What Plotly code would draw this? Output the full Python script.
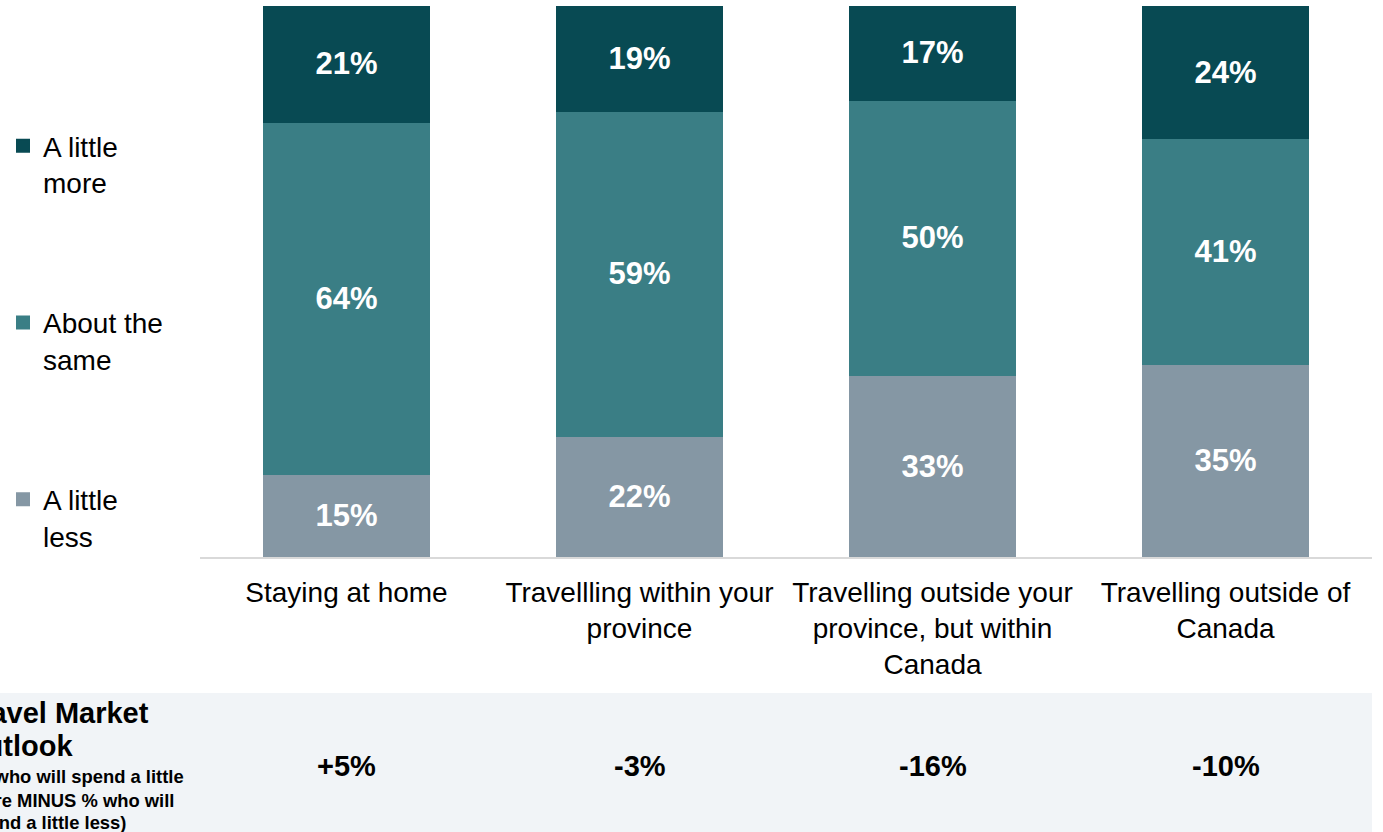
import plotly.graph_objects as go

# Survey categories and stacked shares (%)
categories = [
    "Staying at home",
    "Travellling within your<br>province",
    "Travelling outside your<br>province, but within<br>Canada",
    "Travelling outside of<br>Canada",
]
a_little_less = [15, 22, 33, 35]
about_same = [64, 59, 50, 41]
a_little_more = [21, 19, 17, 24]
outlook = ["+5%", "-3%", "-16%", "-10%"]

series = [
    ("A little<br>less", a_little_less, "#8597a4", 3),
    ("About the<br>same", about_same, "#3a7e85", 2),
    ("A little<br>more", a_little_more, "#084a53", 1),
]

FONT = "Liberation Sans, Arial"
W, H = 1383, 832
L, R, T, B = 200, 11, 6, 275
PW, PH = W - L - R, H - T - B


def px_x(px):
    return (px - L) / PW


def px_y(py):
    return (H - B - py) / PH


fig = go.Figure()
for i, (name, vals, color, rank) in enumerate(series):
    fig.add_trace(go.Bar(
        x=categories,
        y=vals,
        name=name,
        legendgroup=f"g{i}",
        legendrank=rank,
        marker=dict(color=color, line=dict(width=2, color=color)),
        text=[f"{v}%" for v in vals],
        textposition="inside",
        insidetextanchor="middle",
        textangle=0,
        textfont=dict(family=FONT, size=31, color="white", weight="bold"),
        hoverinfo="skip",
    ))

# Shaded band for the outlook row
fig.add_shape(
    type="rect", xref="paper", yref="paper",
    x0=px_x(-5), x1=px_x(1372), y0=px_y(693), y1=px_y(840),
    fillcolor="#f1f4f7", line=dict(width=0), layer="below",
)

annotations = []
for cat, val in zip(categories, outlook):
    annotations.append(dict(
        x=cat, xref="x", y=px_y(766), yref="paper",
        text=f"<b>{val}</b>", showarrow=False,
        font=dict(family=FONT, size=29, color="#000000"),
        xanchor="center", yanchor="middle",
    ))

# Row heading, one line per annotation for tight line spacing
title_lines = [("Travel Market", 713), ("Outlook", 746)]
for txt, yc in title_lines:
    annotations.append(dict(
        x=px_x(-39), xref="paper", y=px_y(yc), yref="paper",
        text=f"<b>{txt}</b>", showarrow=False,
        font=dict(family=FONT, size=29, color="#000000"),
        xanchor="left", yanchor="middle",
    ))
note_lines = [
    ("(% who will spend a little", 777),
    ("more MINUS % who will", 800),
    ("spend a little less)", 822),
]
for txt, yc in note_lines:
    annotations.append(dict(
        x=px_x(-35), xref="paper", y=px_y(yc), yref="paper",
        text=f"<b>{txt}</b>", showarrow=False,
        font=dict(family=FONT, size=18.4, color="#000000"),
        xanchor="left", yanchor="middle",
    ))

fig.update_layout(
    width=W, height=H,
    margin=dict(l=L, r=R, t=T, b=B, autoexpand=False),
    barmode="stack",
    bargap=0.44,
    plot_bgcolor="white",
    paper_bgcolor="white",
    font=dict(family=FONT, size=26, color="#000000"),
    showlegend=True,
    legend=dict(
        x=px_x(3), xanchor="left", y=px_y(121), yanchor="top",
        traceorder="grouped", tracegroupgap=101,
        valign="top", itemwidth=30,
        font=dict(family=FONT, size=28, color="#000000"),
        bgcolor="rgba(0,0,0,0)",
    ),
    annotations=annotations,
)
fig.update_xaxes(
    showline=True, linecolor="#d9d9d9", linewidth=2,
    ticks="", ticklabelstandoff=9,
    tickfont=dict(family=FONT, size=28, color="#000000"),
    range=[-0.5, 3.5],
)
fig.update_yaxes(range=[0, 100], visible=False, showgrid=False)

fig.write_html("out.html")
